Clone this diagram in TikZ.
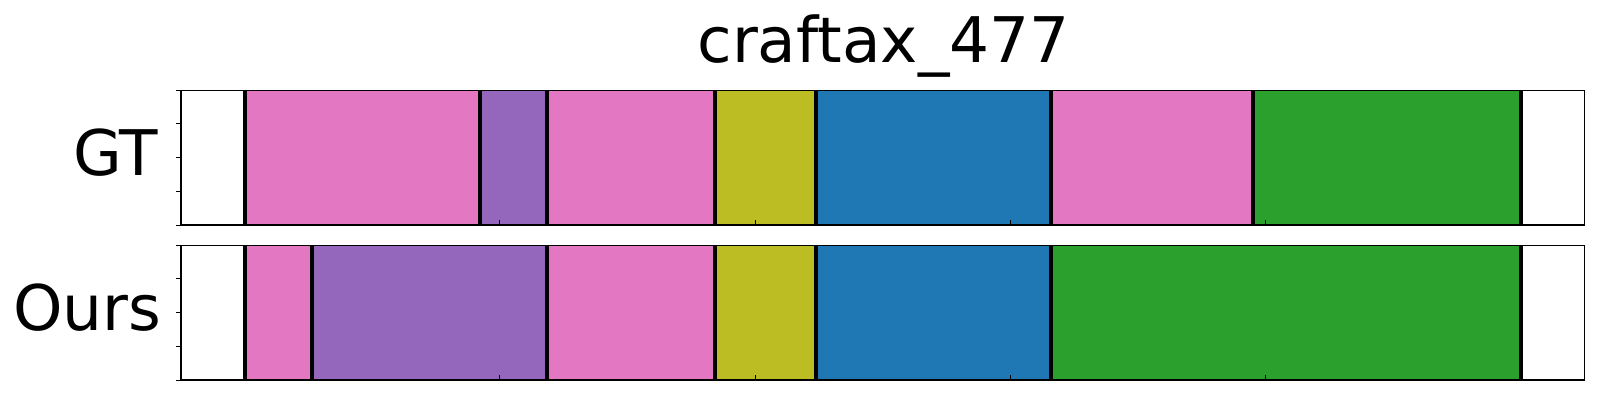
\documentclass[tikz,border=0pt]{standalone}
\usepackage{fontspec}
\setmainfont{DejaVu Sans}
\definecolor{tabpink}{HTML}{E377C2}
\definecolor{tabpurple}{HTML}{9467BD}
\definecolor{tabolive}{HTML}{BCBD22}
\definecolor{tabblue}{HTML}{1F77B4}
\definecolor{tabgreen}{HTML}{2CA02C}
\tikzset{
  frame/.style={draw=black,line width=0.13mm},
  cut/.style={black,line width=0.4mm},
  tickmark/.style={black,line width=0.1mm},
  lbl/.style={font=\fontsize{17.9}{20}\selectfont,inner sep=0pt}
}

\begin{document}
\begin{tikzpicture}[x=0.1mm,y=-0.1mm]
      \useasboundingbox (0,0) rectangle (1600,400);
      \node[lbl,anchor=base] (title) at (883.5,62.7) {craftax\_477};
      \node[lbl,anchor=base east] (gt) at (159,175) {GT};
      \node[lbl,anchor=base east] (ours) at (162,330.5) {Ours};
      % ground truth row
      \begin{scope}[shift={(244.7,90.3)},x=0.25526mm]
      \foreach \a/\b/\c in {0/92/tabpink,92/118.4/tabpurple,118.4/184.2/tabpink,184.2/224/tabolive,224/316/tabblue,316/395/tabpink,395/500/tabgreen} {\fill[\c] (\a,0) rectangle (\b,134.7);}
      \foreach \xcut in {0,92,118.4,184.2,224,316,395,500} {\draw[cut] (\xcut,0) -- (\xcut,134.7);}
      \draw[frame] (-25,0) rectangle (525,134.7);
      \foreach \xtick in {0,100,...,500} {\draw[tickmark] (\xtick,134.7) -- ++(0,0.5mm);}
      \foreach \ytick in {0,...,4} {\pgfmathsetmacro\result{\ytick*134.7/4} \draw[tickmark] (-25,\result) -- ++(-0.5mm,0);}
      \end{scope}
      % predicted row
      \begin{scope}[shift={(244.7,245.3)},x=0.25526mm]
      \foreach \a/\b/\c in {0/26.2/tabpink,26.2/118.4/tabpurple,118.4/184.2/tabpink,184.2/224/tabolive,224/316/tabblue,316/500/tabgreen} {\fill[\c] (\a,0) rectangle (\b,134.7);}
      \foreach \xcut in {0,26.2,118.4,184.2,224,316,500} {\draw[cut] (\xcut,0) -- (\xcut,134.7);}
      \draw[frame] (-25,0) rectangle (525,134.7);
      \foreach \xtick in {0,100,...,500} {\draw[tickmark] (\xtick,134.7) -- ++(0,0.5mm);}
      \foreach \ytick in {0,...,4} {\pgfmathsetmacro\result{\ytick*134.7/4} \draw[tickmark] (-25,\result) -- ++(-0.5mm,0);}
      \end{scope}
   \end{tikzpicture}
\end{document}
